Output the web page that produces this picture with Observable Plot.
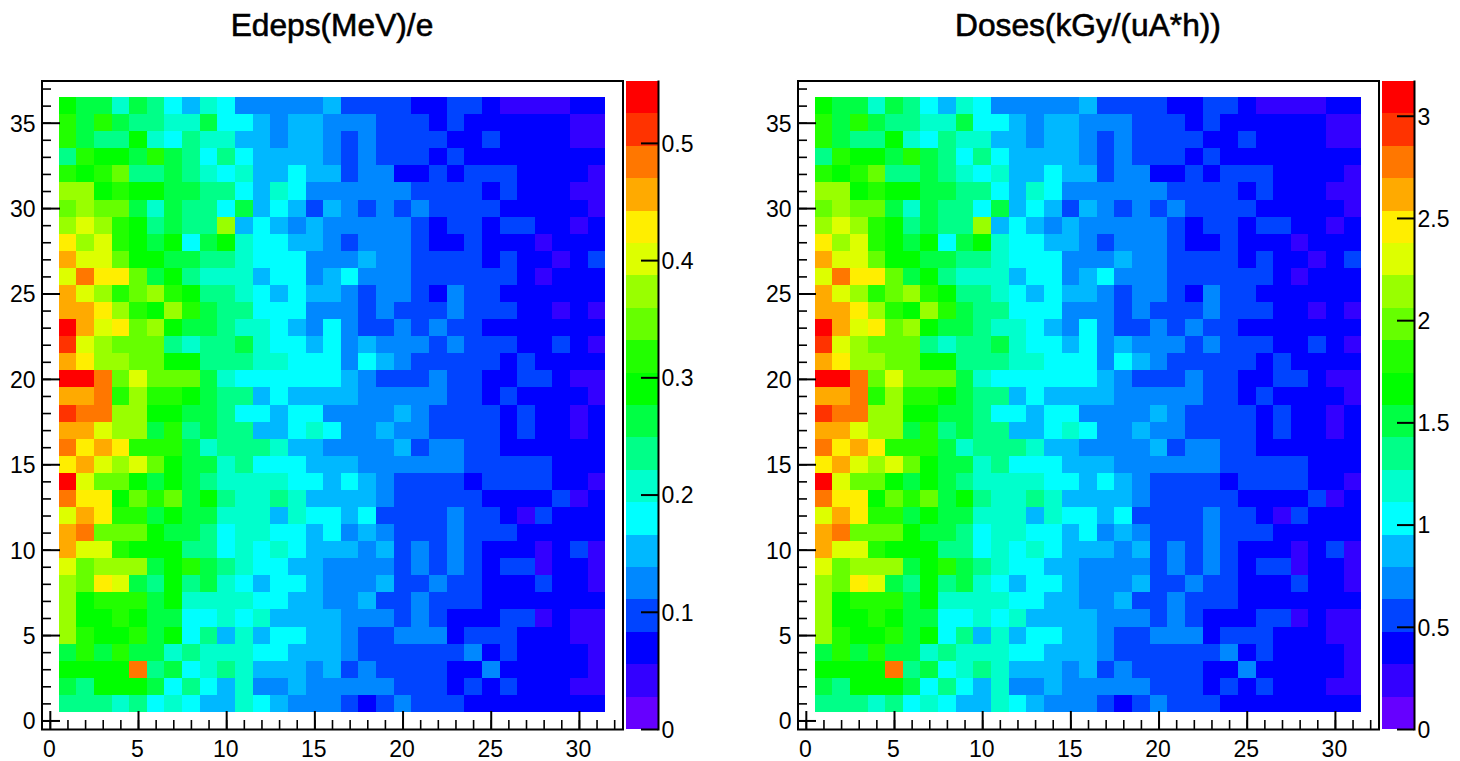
<!DOCTYPE html>
<html>
<head>
<meta charset="utf-8">
<script src="https://cdn.jsdelivr.net/npm/d3@7"></script>
<script src="https://cdn.jsdelivr.net/npm/@observablehq/plot@0.6"></script>
<style>
html,body{margin:0;padding:0;background:#fff;}
#page{position:relative;width:1460px;height:761px;overflow:hidden;font-family:"Liberation Sans",Arial,sans-serif;}
#page svg{position:absolute;overflow:visible;}
.title{position:absolute;top:5px;width:580px;text-align:center;font-size:31.7px;color:#000;line-height:40px;-webkit-text-stroke:0.6px #000;}
</style>
</head>
<body>
<div id="page"></div>
<script>
// Colour band read for each cell (0 = lowest palette band, 19 = highest), columns x = 1..31
const y36=[10,9,9,7,9,8,6,5,7,6,4,4,4,4,4,5,3,3,3,3,2,2,3,3,2,1,1,1,1,2,2];
const y35=[11,9,11,9,8,8,7,7,9,6,6,5,4,5,5,4,4,4,3,3,3,2,3,2,2,2,2,2,2,1,1];
const y34=[11,9,8,8,10,7,6,8,7,7,5,5,4,5,5,4,3,4,3,3,3,3,2,2,3,2,2,2,2,1,1];
const y33=[8,11,10,10,9,11,9,8,6,8,6,5,5,5,5,4,3,4,3,3,3,2,3,2,2,2,2,2,2,2,2];
const y32=[11,10,11,12,8,8,9,8,7,6,7,5,5,6,5,5,3,4,4,2,2,3,2,3,3,3,2,2,2,2,1];
const y31=[13,13,10,11,10,10,9,9,8,8,6,5,7,6,4,4,4,4,4,4,3,3,3,3,2,3,2,2,2,1,1];
const y30=[12,13,12,12,9,7,9,8,8,6,9,5,6,5,3,5,4,3,4,3,4,3,3,3,3,2,2,2,2,2,1];
const y29=[13,14,13,11,10,8,9,8,8,13,5,6,5,4,5,4,4,4,4,4,3,2,3,3,2,3,3,2,2,1,2];
const y28=[15,13,14,11,10,9,10,6,9,10,7,6,6,5,5,4,3,4,4,4,3,2,2,3,2,2,2,1,2,2,2];
const y27=[16,14,14,12,10,10,9,9,8,8,7,6,6,6,4,4,4,5,4,4,3,3,3,3,2,3,2,2,1,2,3];
const y26=[14,17,15,15,12,9,10,8,7,7,7,5,6,6,4,5,6,4,4,4,3,3,3,3,3,3,2,1,2,2,2];
const y25=[16,14,13,11,12,13,11,10,8,8,7,6,5,6,5,5,4,3,4,4,3,2,4,3,3,2,2,2,2,2,2];
const y24=[16,16,15,13,11,10,13,11,9,8,8,6,6,6,4,4,4,3,4,3,3,3,4,3,3,3,2,2,1,2,1];
const y23=[19,16,14,15,12,13,10,9,9,8,7,7,6,5,4,6,4,3,3,4,3,4,3,3,2,2,2,2,2,2,2];
const y22=[18,14,13,12,12,12,8,7,8,8,9,7,6,6,5,6,4,5,4,4,4,3,4,3,3,3,2,2,3,2,1];
const y21=[16,15,13,13,12,12,10,10,8,8,8,7,7,6,6,6,4,6,5,4,3,3,3,3,3,2,3,2,2,2,2];
const y20=[19,19,17,12,14,12,12,12,9,7,6,6,6,6,6,6,5,4,3,3,3,4,3,3,2,2,3,3,2,1,1];
const y19=[16,16,17,11,13,11,11,10,9,8,8,5,6,5,5,5,5,4,4,4,4,4,3,3,2,3,2,2,2,2,1];
const y18=[18,17,17,13,13,10,10,9,9,8,6,6,5,6,6,4,4,4,4,5,4,3,3,3,3,2,3,2,2,1,2];
const y17=[16,16,14,13,13,9,11,8,9,8,8,5,5,6,7,6,4,4,5,4,4,3,3,3,3,2,3,2,2,1,2];
const y16=[17,15,16,15,11,11,11,9,7,8,8,8,7,5,5,4,4,4,4,5,3,4,4,3,3,2,2,2,2,2,2];
const y15=[15,16,14,13,14,12,10,9,9,7,8,6,6,6,5,5,5,4,4,4,4,4,4,3,3,3,3,3,2,2,2];
const y14=[19,14,12,12,10,9,10,9,8,7,7,7,7,6,6,5,6,5,4,3,3,3,3,2,3,3,3,3,2,2,1];
const y13=[17,15,15,10,12,11,12,9,10,8,7,7,8,7,5,5,5,5,4,3,3,3,3,3,2,2,2,2,3,1,2];
const y12=[14,16,15,11,11,9,10,9,9,7,7,7,5,7,6,6,5,6,3,3,3,3,4,3,3,2,1,3,2,2,2];
const y11=[16,17,12,12,12,10,9,9,8,6,7,7,6,6,5,6,4,5,4,3,3,3,4,3,3,3,2,2,2,2,2];
const y10=[16,14,14,11,10,10,10,8,8,6,7,6,7,6,5,5,5,4,5,3,4,3,4,3,2,2,2,1,2,3,1];
const y9=[14,12,13,13,13,9,10,11,9,8,7,6,6,5,5,4,4,4,4,3,4,3,4,3,2,3,3,1,2,2,1];
const y8=[13,12,15,14,9,8,10,8,9,7,6,5,6,6,5,4,4,4,5,3,3,4,3,3,2,2,2,3,2,2,1];
const y7=[13,10,11,11,11,9,10,7,7,7,7,6,6,5,5,4,4,5,3,3,4,3,3,3,2,2,2,2,2,2,2];
const y6=[13,10,10,11,10,9,9,6,6,7,6,7,5,5,5,5,4,4,4,3,4,3,2,2,2,3,3,1,2,1,1];
const y5=[13,11,10,10,11,9,10,6,8,5,7,5,6,6,5,5,4,3,3,4,4,4,2,3,3,3,2,2,2,1,1];
const y4=[9,11,9,11,9,9,7,8,7,7,7,6,6,5,5,5,4,3,3,3,3,3,3,4,2,3,2,2,2,2,1];
const y3=[10,10,10,10,17,8,9,6,7,8,7,5,5,5,4,5,3,4,3,3,3,3,2,2,4,2,2,2,2,2,1];
const y2=[9,8,10,10,10,9,6,8,6,5,7,4,4,5,4,4,4,4,4,3,3,3,2,3,2,3,2,2,2,1,1];
const y1=[8,8,8,7,8,6,7,6,5,5,7,6,5,4,4,4,3,2,3,4,3,3,3,2,2,2,2,2,2,2,2];
const rows=[y1,y2,y3,y4,y5,y6,y7,y8,y9,y10,y11,y12,y13,y14,y15,y16,y17,y18,y19,y20,y21,y22,y23,y24,y25,y26,y27,y28,y29,y30,y31,y32,y33,y34,y35,y36];

const palette=["#6600ff","#3300ff","#0000ff","#0044ff","#0088ff","#00b8ff","#00ffff","#00ffcc","#00ff88","#00ff44","#00ff00","#22ff00","#66ff00","#99ff00","#ddff00","#ffee00","#ffaa00","#ff7700","#ff3300","#ff0000"];

const xMajor=[0,5,10,15,20,25,30];
const xMinor=d3.range(0,33);
const yMajor=[0,5,10,15,20,25,30,35];
const yMinor=d3.range(0,38);

const panels=[
  {title:"Edeps(MeV)/e", zmax:0.5528, zticks:[0,0.1,0.2,0.3,0.4,0.5], left:0},
  {title:"Doses(kGy/(uA*h))", zmax:3.17, zticks:[0,0.5,1,1.5,2,2.5,3], left:756}
];

const page=document.getElementById("page");
const fontStyle={fontFamily:'"Liberation Sans",Arial,sans-serif',overflow:"visible",background:"none"};
const frameW=582, frameH=649, barW=32;

function place(svg,left){svg.style.left=left+"px";svg.style.top="0px";page.appendChild(svg);}

for(const p of panels){
  const nBands=palette.length;
  const step=p.zmax/nBands;
  const thresholds=d3.range(1,nBands).map(i=>i*step);
  const color={type:"threshold",domain:thresholds,range:palette};
  const cells=rows.flatMap((r,j)=>r.map((band,i)=>({x:i+1,y:j+1,value:(band+0.5)*step})));
  const bands=palette.map((c,i)=>({lo:i*step,hi:(i+1)*step,mid:(i+0.5)*step}));

  const heat=Plot.plot({
    width:700,height:761,
    marginLeft:41,marginRight:77,marginTop:80,marginBottom:32,
    style:{...fontStyle,fontSize:"23px"},
    x:{domain:[-0.5,32.5]},
    y:{domain:[-0.5,37.5]},
    color,
    marks:[
      Plot.rect(cells,{x1:d=>d.x-0.5,x2:d=>d.x+0.5,y1:d=>d.y-0.5,y2:d=>d.y+0.5,fill:"value",shapeRendering:"crispEdges"}),
      Plot.tickX(xMinor,{x:d=>d,insetTop:frameH-9,strokeWidth:1.6,stroke:"#000"}),
      Plot.tickX(xMajor,{x:d=>d,insetTop:frameH-18,strokeWidth:2,stroke:"#000"}),
      Plot.axisX({ticks:xMajor,tickSize:0,tickPadding:11,label:null,tickFormat:d=>String(d),dx:-1,fill:"#000",stroke:"#000",strokeWidth:1}),
      Plot.tickY(yMinor,{y:d=>d,insetRight:frameW-10,strokeWidth:1.6,stroke:"#000"}),
      Plot.tickY(yMajor,{y:d=>d,insetRight:frameW-19,strokeWidth:2,stroke:"#000"}),
      Plot.axisY({ticks:yMajor,tickSize:0,tickPadding:6,label:null,tickFormat:d=>String(d),dy:1,fill:"#000",stroke:"#000",strokeWidth:1}),
      Plot.frame({stroke:"#000",strokeWidth:2,insetLeft:0.5,insetRight:0.5,insetTop:0.5})
    ]
  });
  place(heat,p.left);

  const bar=Plot.plot({
    width:120,height:761,
    marginLeft:16,marginRight:72,marginTop:81,marginBottom:32,
    style:{...fontStyle,fontSize:"23px"},
    x:{axis:null},
    y:{domain:[0,p.zmax]},
    color,
    marks:[
      Plot.rect(bands,{y1:"lo",y2:"hi",fill:"mid",shapeRendering:"crispEdges"}),
      Plot.tickY(p.zticks,{y:d=>d,insetLeft:barW-17,strokeWidth:2,stroke:"#000"}),
      Plot.axisY({anchor:"right",ticks:p.zticks,tickSize:0,tickPadding:3,label:null,tickFormat:d=>String(d),dy:1,fill:"#000",stroke:"#000",strokeWidth:1}),
      Plot.frame({anchor:"right",stroke:"#000",strokeWidth:2})
    ]
  });
  place(bar,p.left+610);

  const t=document.createElement("div");
  t.className="title";
  t.textContent=p.title;
  t.style.left=(p.left+42)+"px";
  page.appendChild(t);
}
</script>
</body>
</html>
